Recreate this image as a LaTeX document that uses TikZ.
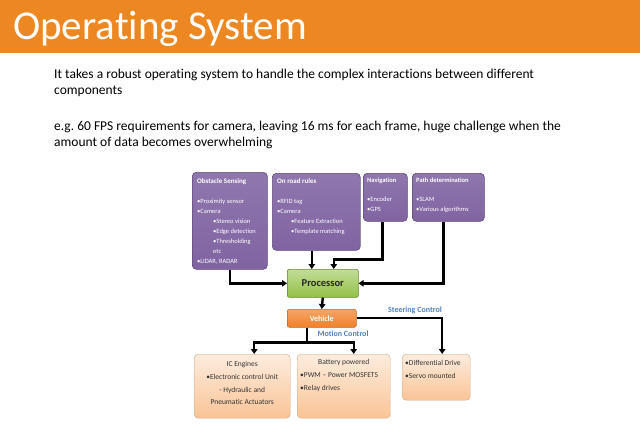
\documentclass[tikz,border=0pt]{standalone}
\usepackage{fontspec}
\setmainfont{Carlito}[Ligatures={NoCommon}]
\usetikzlibrary{arrows.meta,positioning}
\definecolor{slideorange}{RGB}{236,135,33}
\definecolor{ospurple}{RGB}{128,100,162}
\definecolor{osgreen}{RGB}{146,192,70}
\definecolor{osorange}{RGB}{240,128,40}
\definecolor{peachtop}{RGB}{253,236,222}
\definecolor{peachbot}{RGB}{249,196,150}
\definecolor{osblue}{RGB}{79,129,189}
\tikzset{
  purplebox/.style={draw=ospurple!75!black, line width=0.6pt, rounded corners=4pt,
    top color=ospurple!88!white, bottom color=ospurple, anchor=north west, inner sep=0pt},
  peachbox/.style={draw=peachbot!85!black, line width=0.4pt, rounded corners=4pt,
    top color=peachtop, bottom color=peachbot, anchor=north west, inner sep=0pt},
  boxtext/.style={anchor=north west, inner sep=0pt, align=left, text=white,
    font=\fontsize{6.5}{10}\selectfont},
  peachtext/.style={inner sep=0pt, text=black!80, font=\fontsize{7.5}{13}\selectfont},
  conn/.style={line width=2.4pt, -{Triangle[length=5pt,width=6.5pt]}},
  wire/.style={line width=2.4pt},
  ctrl/.style={text=osblue, font=\fontsize{8}{9}\selectfont\bfseries},
}
\begin{document}
\frenchspacing
\begin{tikzpicture}[x=1pt,y=-1pt]
\path[fill=white] (0,0) rectangle (640,424);
\useasboundingbox (0,0) rectangle (640,424);
% title band
\fill[slideorange] (0,0) rectangle (640,53);
\node[anchor=base west, inner sep=0pt, text=white, font=\fontsize{41}{41}\selectfont]
  (title) at (13,39) {Operating System};
\node[anchor=north west, inner sep=0pt, align=left, font=\fontsize{13.5}{16}\selectfont]
  (intro) at (54,69) {It takes a robust operating system to handle the complex interactions between different\\components};
\node[anchor=north west, inner sep=0pt, align=left, font=\fontsize{13.5}{16}\selectfont]
  (fps) at (54,121) {e.g. 60 FPS requirements for camera, leaving 16 ms for each frame, huge challenge when the\\amount of data becomes overwhelming};
% sensing boxes
\node[purplebox, minimum width=75pt, minimum height=97pt] (obst) at (192,172) {};
\node[boxtext] (obsttxt) at ([shift={(5pt,-6pt)}]obst.north west)
  {\textbf{\fontsize{7}{10}\selectfont Obstacle Sensing}\\[10pt]
   •Proximity sensor\\
   •Camera\\
   \hspace*{16pt}•Stereo vision\\
   \hspace*{16pt}•Edge detection\\
   \hspace*{16pt}•Thresholding\\
   \hspace*{16pt}etc\\
   •LIDAR, RADAR};
\node[purplebox, minimum width=88pt, minimum height=77pt] (road) at (272,173) {};
\node[boxtext] (roadtxt) at ([shift={(5pt,-5pt)}]road.north west)
  {\textbf{\fontsize{7}{10}\selectfont On road rules}\\[10pt]
   •RFID tag\\
   •Camera\\
   \hspace*{14pt}•Feature Extraction\\
   \hspace*{14pt}•Template matching};
\node[purplebox, minimum width=44pt, minimum height=48pt] (nav) at (363,173) {};
\node[boxtext] (navtxt) at ([shift={(4pt,-5pt)}]nav.north west)
  {\textbf{\fontsize{6.5}{10}\selectfont Navigation}\\[9pt]
   •Encoder\\
   •GPS};
\node[purplebox, minimum width=72pt, minimum height=48pt] (path) at (412,173) {};
\node[boxtext] (pathtxt) at ([shift={(4pt,-5pt)}]path.north west)
  {\textbf{\fontsize{6.5}{10}\selectfont Path determination}\\[9pt]
   •SLAM\\
   •Various algorithms};
% processor and vehicle
\node[draw=osgreen!70!black, line width=0.6pt, rounded corners=2pt, anchor=north west,
  top color=osgreen!55!white, bottom color=osgreen, minimum width=71pt, minimum height=28pt,
  inner sep=0pt, font=\fontsize{10.5}{10.5}\selectfont\bfseries, text=black!85]
  (proc) at (287,269) {Processor};
\node[draw=osorange!80!black, line width=0.5pt, rounded corners=2pt, anchor=north west,
  top color=osorange!70!white, bottom color=osorange, minimum width=69pt, minimum height=18pt,
  inner sep=0pt, font=\fontsize{8}{8}\selectfont\bfseries, text=white]
  (veh) at (287,309) {Vehicle};
\node[ctrl] (steer) at (415,310) {Steering Control};
\node[ctrl] (motion) at (343,334) {Motion Control};
% actuator boxes
\node[peachbox, minimum width=96pt, minimum height=64pt] (ic) at (194,354) {};
\node[peachtext, anchor=north, align=center] (ictxt) at ([yshift=-7pt]ic.north)
  {IC Engines\\ •Electronic control Unit\\ - Hydraulic and\\[-1pt] Pneumatic Actuators};
\node[peachbox, minimum width=93pt, minimum height=64pt] (bat) at (297,354) {};
\node[peachtext, anchor=north] (battitle) at ([yshift=-5pt]bat.north) {Battery powered};
\node[peachtext, anchor=north west, align=left] (battxt) at ([shift={(3pt,-18pt)}]bat.north west)
  {•PWM – Power MOSFETS\\ •Relay drives};
\node[peachbox, minimum width=68pt, minimum height=46pt] (diff) at (402,354) {};
\node[peachtext, anchor=north west, align=left] (difftxt) at ([shift={(3pt,-6pt)}]diff.north west)
  {•Differential Drive\\ •Servo mounted};
% connectors
\coordinate (procin1) at ([xshift=-11pt]proc.north);
\coordinate (procin2) at ([xshift=11pt]proc.north);
\draw[conn] (obst.south) |- (proc.west);
\draw[conn] (procin1 |- road.south) -- (procin1);
\draw[conn] ([xshift=-3pt]nav.south) -- ++(0,38) -| (procin2);
\draw[conn] ([xshift=-5pt]path.south) |- (proc.east);
\draw[conn] (proc.south) -- (veh.north);
\draw[conn] (veh.east) -| ([xshift=6pt]diff.north);
\coordinate (vehout) at ([xshift=-15pt]veh.south);
\coordinate (fork) at ([yshift=-15pt]vehout);
\draw[wire] (vehout) -- (fork);
\draw[conn] (fork) -| ([xshift=12pt]ic.north);
\draw[conn] (fork) -| ([xshift=10pt]bat.north);
\end{tikzpicture}
\end{document}
